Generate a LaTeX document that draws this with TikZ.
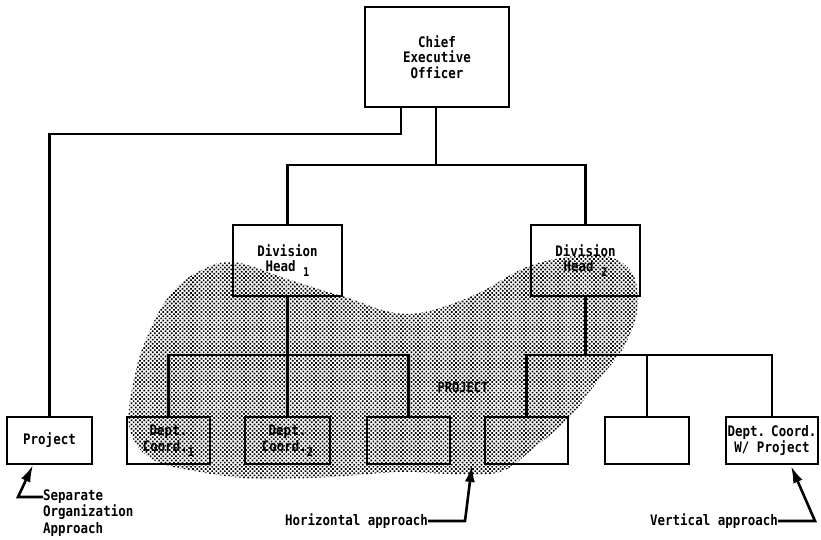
\documentclass[tikz,border=0pt]{standalone}
\usepackage{fontspec}
\newfontfamily\tw{DejaVu Sans Mono}[FakeStretch=0.86]
\usetikzlibrary{patterns.meta,arrows.meta}
\newcommand\sbx[1]{\raisebox{-5pt}{\fontsize{12}{12}\selectfont #1}}
\tikzset{
  box/.style={draw,line width=2.8pt,inner sep=0pt,align=center,font=\tw\bfseries\fontsize{14.5}{15.5}\selectfont},
  lbl/.style={inner sep=0pt,align=left,font=\tw\bfseries\fontsize{14.5}{16.5}\selectfont},
  conn/.style={line width=2.5pt},
  arr/.style={line width=2.6pt,-{Latex[length=17pt,width=10pt]}},
}
\begin{document}
\begin{tikzpicture}[x=1pt,y=-1pt]
\useasboundingbox (0,0) rectangle (821,539);
% project blob
\fill[pattern={Dots[distance=3pt,radius=1.2pt,angle=45]}]
 plot[smooth cycle,tension=0.6] coordinates {
 (196,273) (233,262) (290,280) (342,296) (406,314) (470,297) (532,265)
 (597,255) (630,270) (638,305) (625,345) (600,378) (570,417) (535,447)
 (500,472) (450,474) (400,472) (330,477) (260,479) (200,472) (150,458)
 (129,425) (136,370) (150,330) (170,295)};
% boxes
\node[box,minimum width=144pt,minimum height=100pt] (ceo) at (437,57) {Chief\\Executive\\Officer};
\node[box,minimum width=109pt,minimum height=71pt] (d1) at (287.5,260.5) {Division\\Head \sbx{1}};
\node[box,minimum width=109pt,minimum height=71pt] (d2) at (585.5,260.5) {Division\\Head \sbx{2}};
\node[box,minimum width=85pt,minimum height=47pt] (prj) at (49.5,440.5) {Project};
\node[box,minimum width=83pt,minimum height=47pt] (b1) at (168.5,440.5) {Dept.\\Coord.\sbx{1}};
\node[box,minimum width=85pt,minimum height=47pt] (b2) at (287.5,440.5) {Dept.\\Coord.\sbx{2}};
\node[box,minimum width=83pt,minimum height=47pt] (b3) at (408.5,440.5) {};
\node[box,minimum width=83pt,minimum height=47pt] (b4) at (526.5,440.5) {};
\node[box,minimum width=84pt,minimum height=47pt] (b5) at (647,440.5) {};
\node[box,minimum width=92pt,minimum height=47pt] (b6) at (772,440.5) {Dept.\hspace{-4pt} Coord.\\W/ Project};
\node[font=\tw\bfseries\fontsize{14}{15}\selectfont,inner sep=0pt] (plabel) at (463,387) {PROJECT};
% connectors
\draw[conn] (ceo.south -| 401,0) |- (49.5,134) -- (prj.north);
\draw[conn] (ceo.south -| 436,0) -- (436,165);
\draw[conn] (d1.north) |- (d2.north |- 0,165) -- (d2.north);
\draw[conn] (d1.south) -- (d1.south |- 0,355);
\draw[conn] (b1.north) |- (b3.north |- 0,355) -- (b3.north);
\draw[conn] (b2.north) -- (b2.north |- 0,355);
\draw[conn] (d2.south) -- (d2.south |- 0,355);
\draw[conn] (b4.north) |- (b6.north |- 0,355) -- (b6.north);
\draw[conn] (b5.north) -- (b5.north |- 0,355);
% annotations
\node[lbl,anchor=west] (sep) at (43,513) {Separate\\Organization\\Approach};
\node[lbl,anchor=west] (hor) at (285,521) {Horizontal approach};
\node[lbl,anchor=west] (ver) at (650,521) {Vertical approach};
\coordinate (sepA) at (18,497);
\coordinate (horA) at (465,521);
\coordinate (verA) at (815,521);
\draw[arr] (sep.west |- 0,497) -- (sepA) -- (33,465);
\draw[arr] (hor.east) -- (horA) -- (472,465);
\draw[arr] (ver.east) -- (verA) -- (791,466);
\end{tikzpicture}
\end{document}
